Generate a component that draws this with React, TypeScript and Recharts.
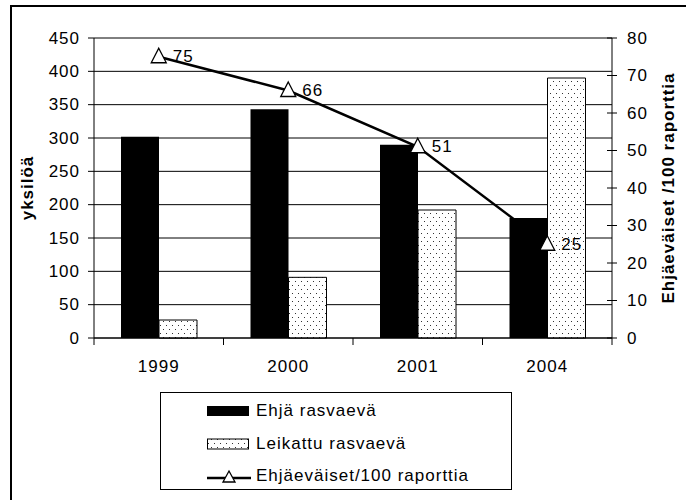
import React from 'react';
import {
  ComposedChart, Bar, Line, XAxis, YAxis, CartesianGrid, Legend, LabelList,
} from 'recharts';

// chart data
const years = ['1999', '2000', '2001', '2004'];
const ehjaRasvaeva = [302, 343, 290, 180];
const leikattuRasvaeva = [27, 91, 192, 390];
const ehjaevaisetPer100 = [75, 66, 51, 25];

const leftTicks = [0, 50, 100, 150, 200, 250, 300, 350, 400, 450];
const rightTicks = [0, 10, 20, 30, 40, 50, 60, 70, 80];
const legendOrder = ['ehja', 'leikattu', 'per100'];

const data = years.map((year, i) => ({
  year,
  ehja: ehjaRasvaeva[i],
  leikattu: leikattuRasvaeva[i],
  per100: ehjaevaisetPer100[i],
}));

const W = 686;
const H = 500;
const PLOT_L = 94;
const PLOT_R = 612;
const BAND = (PLOT_R - PLOT_L) / years.length;
const FONT = '"Liberation Sans", Arial, sans-serif';
const TXT = { fontFamily: FONT, fontSize: 17, letterSpacing: 1, fill: '#000' };

const Triangle = (props: any) => {
  const { cx, cy, index } = props;
  if (cx == null || cy == null) return <g key={`t-${index}`} />;
  return (
    <path
      key={`t-${index}`}
      d={`M${cx},${cy - 8.5} L${cx + 7.5},${cy + 6} L${cx - 7.5},${cy + 6} Z`}
      fill="#fff" stroke="#000" strokeWidth={1.3}
    />
  );
};

const PointLabel = (props: any) => {
  const { x, y, value } = props;
  return (
    <text x={x + 14} y={y} dominantBaseline="central" {...TXT}>{value}</text>
  );
};

const XTick = (props: any) => {
  const { x, y, payload, index } = props;
  const axisY = y - 22;
  return (
    <g>
      <line x1={x - BAND / 2} x2={x - BAND / 2} y1={axisY} y2={axisY + 7} stroke="#000" />
      {index === years.length - 1 && (
        <line x1={x + BAND / 2} x2={x + BAND / 2} y1={axisY} y2={axisY + 7} stroke="#000" />
      )}
      <text x={x} y={y} dy="0.71em" textAnchor="middle" {...TXT}>{payload.value}</text>
    </g>
  );
};

const LeftTick = (props: any) => {
  const { x, y, payload } = props;
  return (
    <text x={x} y={y} dominantBaseline="central" textAnchor="end" {...TXT}>{payload.value}</text>
  );
};

const RightTick = (props: any) => {
  const { x, y, payload } = props;
  const axisX = x - 15;
  return (
    <g>
      <line x1={axisX - 5} x2={axisX + 5} y1={y} y2={y} stroke="#000" />
      <text x={x} y={y} dominantBaseline="central" textAnchor="start" {...TXT}>{payload.value}</text>
    </g>
  );
};

const AxisTitle = (text: string, dx: number) => (props: any) => {
  const vb = props.viewBox || { x: 0, y: 38, width: 0, height: 300 };
  const x = vb.x + dx;
  const y = vb.y + vb.height / 2;
  return (
    <text
      x={x} y={y} transform={`rotate(-90 ${x} ${y})`}
      textAnchor="middle" dominantBaseline="central"
      style={{ fontFamily: FONT, fontSize: 17, fontWeight: 700, letterSpacing: 1 }}
      fill="#000"
    >
      {text}
    </text>
  );
};

const LegendIcon = ({ dataKey }: { dataKey: string }) => {
  if (dataKey === 'ehja') return <rect x={0} y={5} width={42} height={10} fill="#000" />;
  if (dataKey === 'leikattu') {
    return <rect x={0.5} y={5} width={41} height={10} fill="url(#dots)" stroke="#000" />;
  }
  return (
    <g>
      <line x1={0} x2={44} y1={12} y2={12} stroke="#000" strokeWidth={2.5} />
      <path d="M22,5 L28,16 L16,16 Z" fill="#fff" stroke="#000" strokeWidth={1.3} />
    </g>
  );
};

const renderLegend = (props: any) => {
  const items = (props.payload || [])
    .filter((p: any) => p.type !== 'none' && legendOrder.includes(p.dataKey))
    .sort((a: any, b: any) => legendOrder.indexOf(a.dataKey) - legendOrder.indexOf(b.dataKey));
  return (
    <div style={{
      boxSizing: 'border-box', width: 352, height: 98, border: '1px solid #000',
      background: '#fff', position: 'relative',
    }}>
      {items.map((p: any, i: number) => (
        <div key={p.value} style={{
          position: 'absolute', left: 46, top: 8 + i * 32.5, height: 20,
          display: 'flex', alignItems: 'center',
        }}>
          <svg width={44} height={20} style={{ overflow: 'visible' }}>
            <LegendIcon dataKey={p.dataKey} />
          </svg>
          <span style={{ marginLeft: 5, fontFamily: FONT, fontSize: 17, letterSpacing: 1, color: '#000' }}>
            {p.value}
          </span>
        </div>
      ))}
    </div>
  );
};

export default function App() {
  return (
    <div style={{
      position: 'absolute', left: 0, top: 0, width: W, height: H,
      overflow: 'hidden', background: '#fff',
    }}>
      <div style={{
        position: 'absolute', left: 10, top: 5, width: 720, height: 540,
        border: '2px solid #000',
      }} />
      <ComposedChart
        width={W} height={H} data={data}
        margin={{ top: 38, right: 0, bottom: 132, left: 0 }}
        barGap={0}
      >
        <defs>
          <pattern id="dots" width={6} height={8} patternUnits="userSpaceOnUse">
            <rect width={6} height={8} fill="#fff" />
            <rect x={1} y={1} width={1} height={1} fill="#333" />
            <rect x={4} y={5} width={1} height={1} fill="#333" />
          </pattern>
        </defs>
        <CartesianGrid yAxisId="left" vertical={false} stroke="#000" />
        <XAxis
          dataKey="year" interval={0} height={30}
          tickSize={0} tickMargin={22} tickLine={false}
          axisLine={{ stroke: '#000' }} tick={<XTick />}
        />
        <YAxis
          yAxisId="left" domain={[0, 450]} ticks={leftTicks} width={94}
          tickSize={6} tickMargin={8}
          axisLine={{ stroke: '#000' }} tickLine={{ stroke: '#000' }}
          tick={<LeftTick />}
          label={AxisTitle('yksilöä', 27)}
        />
        <YAxis
          yAxisId="right" orientation="right" domain={[0, 80]} ticks={rightTicks} width={74}
          tickSize={5} tickMargin={10} tickLine={false}
          axisLine={{ stroke: '#000' }}
          tick={<RightTick />}
          label={AxisTitle('Ehjäeväiset /100 raporttia', 56)}
        />
        <Line
          yAxisId="right" dataKey="per100" name="line-back" legendType="none"
          stroke="#000" strokeWidth={2.5} dot={false} activeDot={false}
          isAnimationActive={false}
        />
        <Bar yAxisId="left" dataKey="ehja" name="Ehjä rasvaevä" fill="#000" barSize={38} isAnimationActive={false} />
        <Bar
          yAxisId="left" dataKey="leikattu" name="Leikattu rasvaevä"
          fill="url(#dots)" stroke="#000" strokeWidth={1} barSize={38} isAnimationActive={false}
        />
        <Line
          yAxisId="right" dataKey="per100" name="Ehjäeväiset/100 raporttia"
          stroke="none" dot={Triangle} activeDot={false} isAnimationActive={false}
        >
          <LabelList dataKey="per100" content={<PointLabel />} />
        </Line>
        <Legend
          layout="horizontal" verticalAlign="middle" align="center"
          content={renderLegend}
          wrapperStyle={{ left: 160, top: 392, width: 352, height: 98 }}
        />
      </ComposedChart>
    </div>
  );
}
